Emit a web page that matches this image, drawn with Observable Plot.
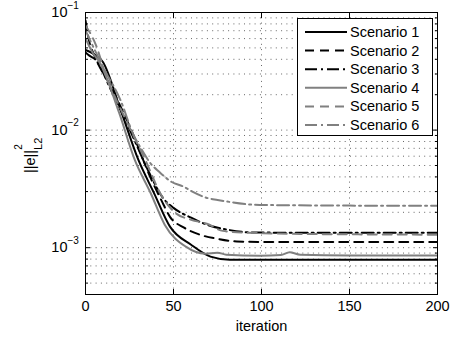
<!DOCTYPE html>
<html><head><meta charset="utf-8">
<script src="https://cdn.jsdelivr.net/npm/d3@7"></script>
<script src="https://cdn.jsdelivr.net/npm/@observablehq/plot@0.6"></script>
<style>
body{margin:0;background:#fff;}
svg{display:block;font-family:"Liberation Sans",Arial,Helvetica,sans-serif;}
</style>
</head><body><div id="chart"></div>
<script>
const scenarioNames = ["Scenario 1","Scenario 2","Scenario 3","Scenario 4","Scenario 5","Scenario 6"];
const scenarioColors = ["#000000","#000000","#000000","#808080","#808080","#808080"];
const scenarioDash = ["none","9,6","12,4,2,4","none","9,6","12,4,2,4"];

// [iteration, ||e||^2]
const s1 = [[0,0.048],[3,0.0458],[10,0.0377],[20,0.0148],[30,0.0056],[39,0.0029],[48,0.00151],[60,0.00106],[71,0.00084],[82,0.00079],[100,0.00079],[150,0.00079],[200,0.00079]];
const s2 = [[0,0.0855],[2,0.0579],[5,0.0432],[14,0.0241],[26,0.0100],[37,0.00392],[43,0.00255],[48,0.00183],[56,0.00148],[65,0.00129],[75,0.00119],[86,0.00113],[100,0.00112],[150,0.00112],[200,0.00112]];
const s3 = [[0,0.0458],[2,0.0432],[6,0.0392],[14,0.0227],[26,0.00944],[36,0.0044],[44,0.00265],[50,0.00218],[60,0.0018],[69,0.00157],[81,0.00142],[94,0.00135],[120,0.00134],[150,0.00134],[200,0.00134]];
const s4 = [[0,0.0603],[4,0.0458],[8,0.0377],[19,0.0142],[28,0.00557],[37,0.00292],[45,0.00157],[57,0.00102],[68,0.00089],[75,0.000907],[80,0.000873],[99,0.000855],[111,0.000865],[116,0.000915],[122,0.000873],[150,0.00086],[200,0.00086]];
const s5 = [[0,0.0776],[6,0.0525],[11,0.031],[23,0.01216],[34,0.00557],[43,0.00281],[51,0.00198],[60,0.00173],[69,0.0016],[78,0.00139],[92,0.00134],[122,0.00131],[150,0.0013],[200,0.00129]];
const s6 = [[0,0.0704],[4,0.0525],[11,0.0322],[20,0.0178],[27,0.0093],[32,0.0068],[37,0.0052],[42,0.0044],[49,0.00362],[56,0.00329],[61,0.00298],[69,0.00265],[75,0.00255],[99,0.00231],[150,0.00228],[200,0.00227]];

const xTicks = [0,50,100,150,200];
const xGrid = [50,100,150];
const yMajor = [1e-3,1e-2,1e-1];
const yExpLabels = ["\u22123","\u22122","\u22121"];
const yMinor = [5e-4,6e-4,7e-4,8e-4,9e-4,2e-3,3e-3,4e-3,5e-3,6e-3,7e-3,8e-3,9e-3,2e-2,3e-2,4e-2,5e-2,6e-2,7e-2,8e-2,9e-2];
const yGrid = [5e-4,6e-4,7e-4,8e-4,9e-4,1e-3,2e-3,3e-3,4e-3,5e-3,6e-3,7e-3,8e-3,9e-3,1e-2,2e-2,3e-2,4e-2,5e-2,6e-2,7e-2,8e-2,9e-2];

const series = [s1,s2,s3,s4,s5,s6];
const dotted = {stroke:"#000", strokeOpacity:0.6, strokeWidth:1, strokeDasharray:"1,4.3"};
const noText = () => "";

const plot = Plot.plot({
  width:459, height:348,
  marginLeft:85, marginRight:22, marginTop:12, marginBottom:54,
  x:{domain:[0,200]},
  y:{type:"log", domain:[4e-4,1e-1]},
  style:{fontFamily:'"Liberation Sans",Arial,Helvetica,sans-serif', fontSize:"14px", background:"#fff", color:"#000"},
  marks:[
    Plot.ruleY(yGrid, dotted),
    Plot.ruleX(xGrid, dotted),
    ...series.map((s,i)=>Plot.line(s, {x:d=>d[0], y:d=>d[1], stroke:scenarioColors[i], strokeWidth:2, strokeDasharray:scenarioDash[i], curve:"monotone-x", clip:true})),
    Plot.frame({stroke:"#000", strokeWidth:1}),
    Plot.axisX(xTicks, {anchor:"bottom", tickSize:-5, tickFormat:noText, label:null}),
    Plot.axisX(xTicks, {anchor:"top", tickSize:-5, tickFormat:noText, label:null}),
    Plot.axisY(yMajor, {anchor:"left", tickSize:-5, tickFormat:noText, label:null}),
    Plot.axisY(yMajor, {anchor:"right", tickSize:-5, tickFormat:noText, label:null}),
    Plot.axisY(yMinor, {anchor:"left", tickSize:-3, tickFormat:noText, label:null}),
    Plot.axisY(yMinor, {anchor:"right", tickSize:-3, tickFormat:noText, label:null}),
    Plot.text(xTicks, {x:d=>d, frameAnchor:"bottom", dy:16, text:d=>String(d), fontSize:14.5}),
    Plot.text(yMajor, {y:d=>d, frameAnchor:"left", dx:-18, textAnchor:"end", text:()=> "10", fontSize:14.5}),
    Plot.text(yMajor, {y:d=>d, frameAnchor:"left", dx:-18, dy:-7, textAnchor:"start", text:(d,i)=>yExpLabels[i], fontSize:10}),
    Plot.text(["iteration"], {frameAnchor:"bottom", dy:36, text:d=>d, fontSize:14.5})
  ]
});
document.getElementById("chart").appendChild(plot);

const svg = d3.select(plot);
// y-axis label ||e||^2_{L2}
const yl = svg.append("text")
  .attr("transform","translate(35,173) rotate(-90)")
  .attr("text-anchor","start")
  .attr("font-size",14.5).attr("fill","#000");
yl.append("tspan").text("||e||");
yl.append("tspan").attr("font-size",10).attr("dy",-13).text("2");
yl.append("tspan").attr("font-size",11).attr("dx",-5.6).attr("dy",20).text("L2");

// legend
const lg = svg.append("g").attr("text-anchor","start");
lg.append("rect").attr("x",297.5).attr("y",18.5).attr("width",135).attr("height",117)
  .attr("fill","#fff").attr("stroke","#000").attr("stroke-width",1);
scenarioNames.forEach((name,i)=>{
  const cy = 32 + i*18.6;
  lg.append("line").attr("x1",305).attr("x2",347).attr("y1",cy).attr("y2",cy)
    .attr("stroke",scenarioColors[i]).attr("stroke-width",2)
    .attr("stroke-dasharray",scenarioDash[i]);
  lg.append("text").attr("x",350).attr("y",cy).attr("dy","0.35em")
    .attr("text-anchor","start")
    .attr("font-size",14.5).attr("fill","#000").text(name);
});
</script>
</body></html>
